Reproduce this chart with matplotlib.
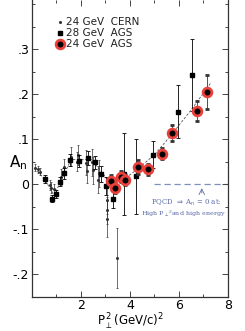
import matplotlib
matplotlib.use("Agg")
import matplotlib.pyplot as plt
from matplotlib.ticker import MultipleLocator

# 24 GeV CERN (small dots)
cern_x = [0.13, 0.24, 0.34, 0.72, 0.79, 0.90, 1.20, 1.31, 1.60, 1.85, 1.89,
          2.20, 2.23, 2.46, 2.50, 2.71, 2.75, 3.05, 3.07, 3.07, 3.48]
cern_y = [0.036, 0.033, 0.027, -0.002, -0.008, -0.012, 0.016, 0.038, 0.061, 0.050, 0.064,
          0.047, 0.030, 0.048, 0.031, 0.009, 0.024, -0.036, -0.058, -0.078, -0.164]
cern_err = [0.008, 0.008, 0.008, 0.012, 0.012, 0.012, 0.018, 0.018, 0.022, 0.022, 0.022,
            0.028, 0.028, 0.030, 0.030, 0.030, 0.030, 0.030, 0.030, 0.040, 0.067]

# 28 GeV AGS (squares)
ags28_x = [0.53, 0.83, 0.98, 1.14, 1.29, 1.55, 1.93, 2.29, 2.57, 2.82, 3.01, 3.29,
           3.76, 4.24, 4.95, 5.97, 6.52]
ags28_y = [0.011, -0.033, -0.022, 0.005, 0.024, 0.053, 0.051, 0.058, 0.048, 0.022, -0.004, -0.034,
           0.022, 0.017, 0.065, 0.161, 0.242]
ags28_err = [0.008, 0.008, 0.008, 0.010, 0.012, 0.014, 0.014, 0.015, 0.015, 0.018, 0.020, 0.020,
             0.091, 0.083, 0.030, 0.058, 0.080]

# 24 GeV AGS (red circles)
ags24_x = [3.22, 3.39, 3.62, 3.80, 4.31, 4.73, 5.32, 5.71, 6.73, 7.13]
ags24_y = [0.007, -0.008, 0.016, 0.009, 0.038, 0.033, 0.067, 0.113, 0.162, 0.204]
ags24_err = [0.012, 0.012, 0.012, 0.012, 0.015, 0.012, 0.012, 0.018, 0.022, 0.038]

# dashed trend curve
trend_x = [0.1, 0.5, 0.9, 1.3, 1.6, 2.0, 2.4, 2.8, 3.2, 3.6, 4.3, 5.0, 5.7, 6.5, 7.3]
trend_y = [0.035, 0.012, -0.025, 0.020, 0.055, 0.054, 0.055, 0.030, 0.000, 0.004, 0.033, 0.065, 0.110, 0.165, 0.225]

fig = plt.figure(figsize=(2.45, 3.31), dpi=100)
ax = fig.add_axes([0.1306, 0.1042, 0.8, 0.8958])

ax.plot(trend_x, trend_y, ls=(0, (3, 2)), lw=0.6, color='#555555', zorder=1)

ax.errorbar(cern_x, cern_y, yerr=cern_err, fmt='o', ms=1.2, color='#333333',
            elinewidth=0.5, capsize=1, capthick=0.5, zorder=2)
ax.errorbar(ags28_x, ags28_y, yerr=ags28_err, fmt='s', ms=3.2, color='black',
            elinewidth=0.6, capsize=1.2, capthick=0.6, zorder=3)
ax.errorbar(ags24_x, ags24_y, yerr=ags24_err, fmt='o', ms=6.3, mfc='black',
            mec='#e8403a', mew=2.0, ecolor='#333333',
            elinewidth=0.6, capsize=1.2, capthick=0.6, zorder=4)

# pQCD expectation
ax.plot([5.0, 8.0], [0, 0], ls=(0, (5, 3)), lw=0.9, color='#7f90bd', zorder=1)
ax.annotate('', xy=(6.93, -0.003), xytext=(6.93, -0.026),
            arrowprops=dict(arrowstyle='->', lw=0.6, color='#6070a8'))
ax.text(6.3, -0.043, r'PQCD $\Rightarrow$ A$_\mathrm{n}$ = 0 at:', ha='center', va='center',
        fontsize=5.0, family='DejaVu Serif', color='#5a6aa8')
ax.text(6.2, -0.066, r'High P$_\perp$$^2$and high energy', ha='center', va='center',
        fontsize=4.6, family='DejaVu Serif', color='#5a6aa8')

# legend
leg_y = [0.360, 0.336, 0.311]
ax.plot(1.15, leg_y[0], 'o', ms=1.2, color='#333333')
ax.plot(1.15, leg_y[1], 's', ms=3.2, color='black')
ax.plot(1.15, leg_y[2], 'o', ms=6.3, mfc='black', mec='#e8403a', mew=2.0)
for yy, lab in zip(leg_y, ['24 GeV  CERN', '28 GeV  AGS', '24 GeV  AGS']):
    ax.text(1.4, yy, lab, fontsize=7.5, va='center', color='#222222')

ax.set_xlim(0, 8)
ax.set_ylim(-0.25, 0.409)
ax.xaxis.set_major_locator(MultipleLocator(2))
ax.xaxis.set_minor_locator(MultipleLocator(1))
ax.yaxis.set_major_locator(MultipleLocator(0.1))
ax.yaxis.set_minor_locator(MultipleLocator(0.05))
ax.set_xticks([2, 4, 6, 8])
ax.set_xticklabels(['2', '4', '6', '8'])
ax.set_yticks([-0.2, -0.1, 0, 0.1, 0.2, 0.3])
ax.set_yticklabels(['-.2', '-.1', '0', '.1', '.2', '.3'])
ax.tick_params(which='both', direction='in', top=True, right=True, labelsize=9,
               color='#444444', width=0.7, pad=2)
ax.tick_params(which='major', length=4)
ax.tick_params(which='minor', length=2.5)
ax.spines['top'].set_visible(False)
for s in ['left', 'right', 'bottom']:
    ax.spines[s].set_linewidth(0.9)
    ax.spines[s].set_color('#333333')

fig.text(0.035, 0.51, r'A$_\mathrm{n}$', fontsize=11, va='center', ha='left')
ax.set_xlabel(r'P$_{\perp}^{\,2}$(GeV/c)$^2$', fontsize=8.5, labelpad=0)

fig.savefig('out.png', dpi=100)
